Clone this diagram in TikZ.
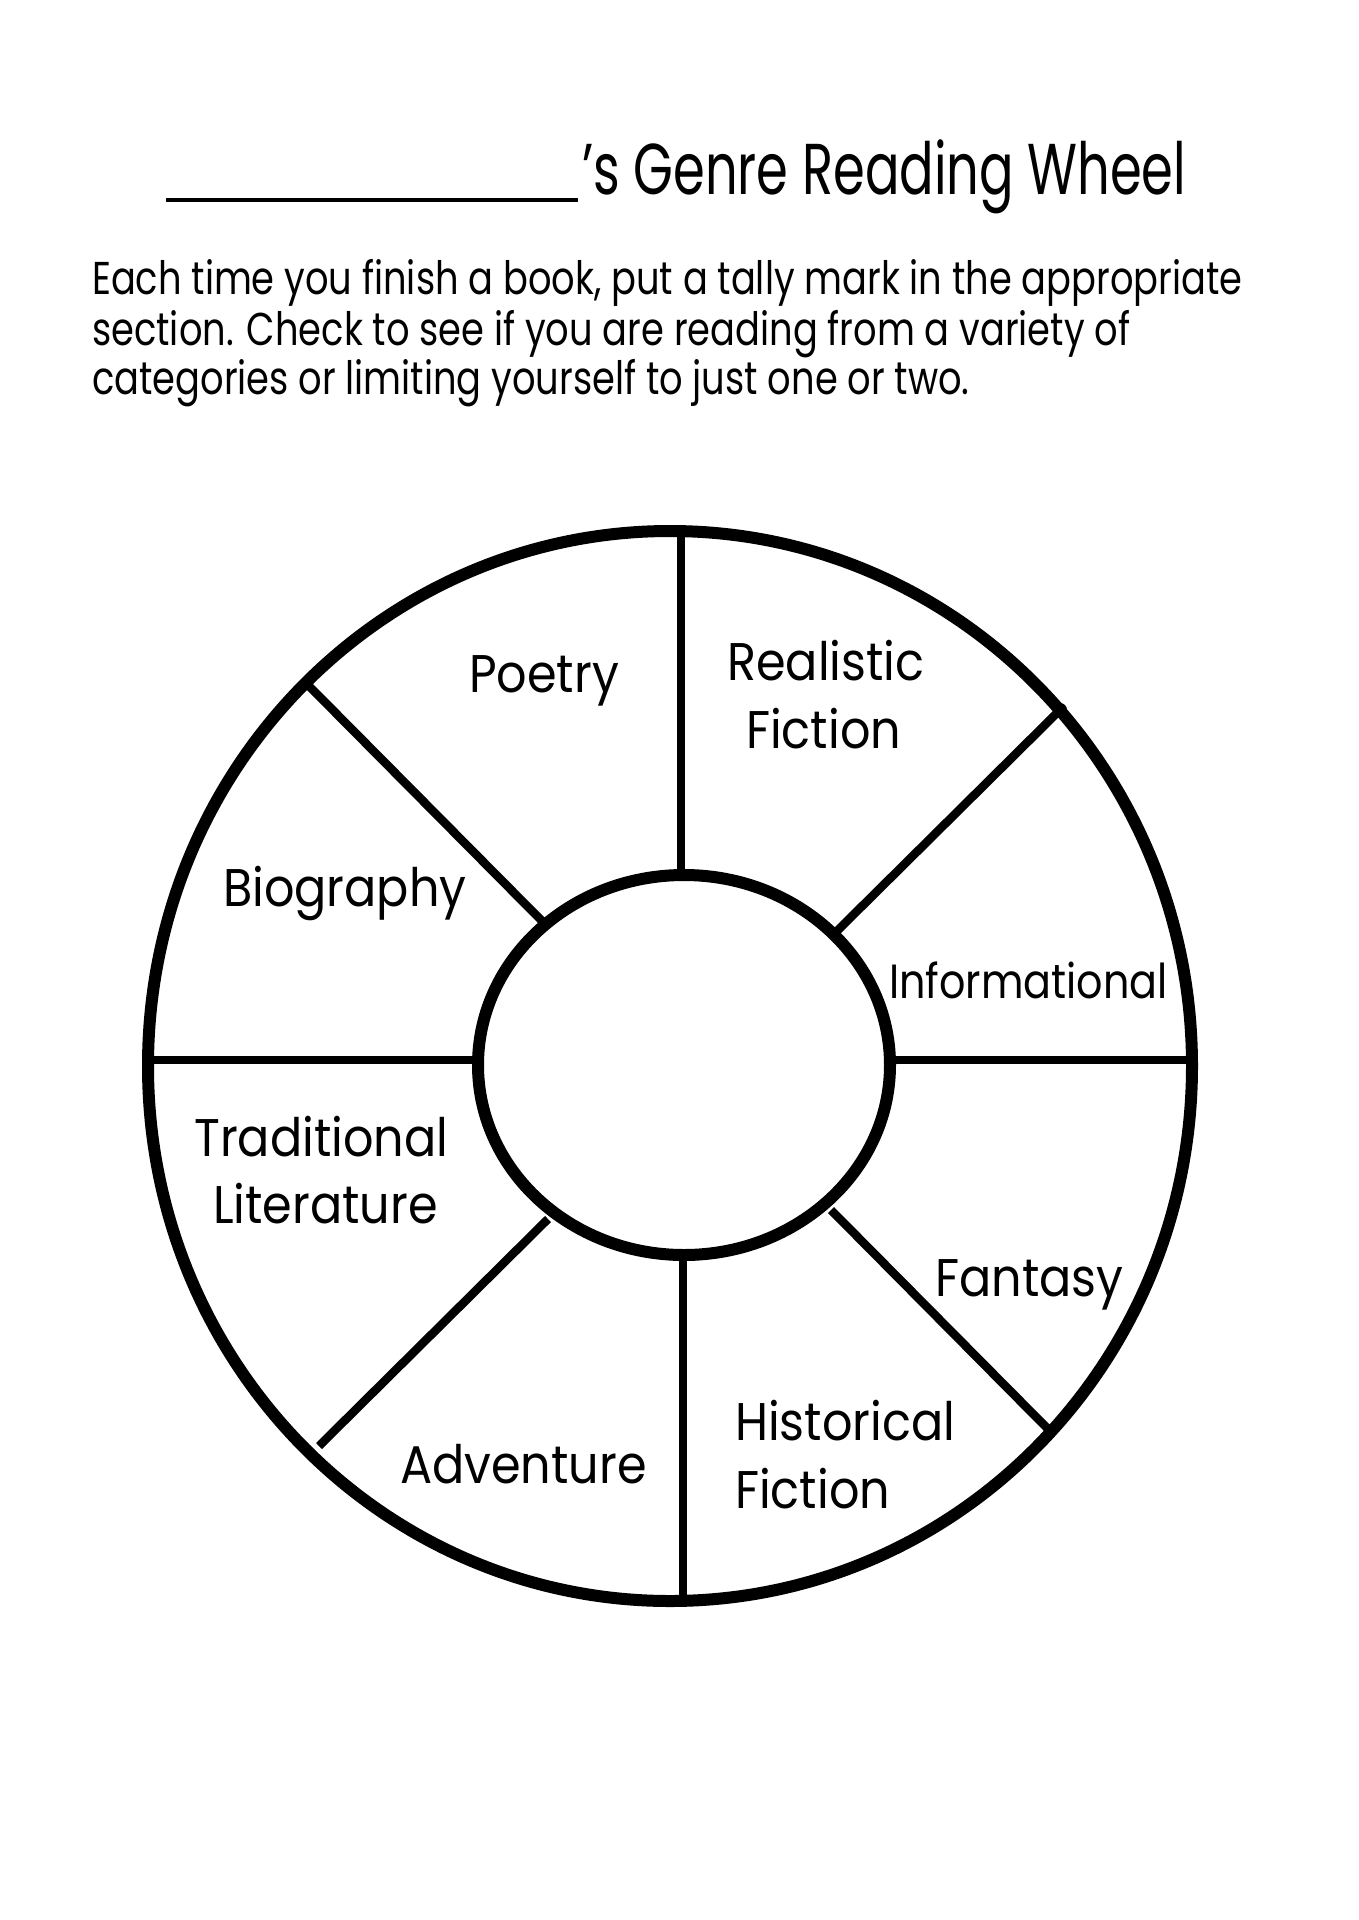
\documentclass[tikz,border=0pt]{standalone}
\usepackage{fontspec}
\setmainfont{Poppins}
\newfontfamily\lblfont[FakeStretch=0.9]{Poppins}
\newfontfamily\infofont[FakeStretch=0.86]{Poppins}
\newfontfamily\parafont[FakeStretch=0.8]{Poppins}
\newfontfamily\ttlfont[FakeStretch=0.71]{Poppins}
\begin{document}
\begin{tikzpicture}[x=1pt,y=-1pt,
  rim/.style={line width=12pt},
  spoke/.style={line width=8.5pt},
  blankline/.style={line width=4.5pt},
  lbl/.style={inner sep=0pt, anchor=base west, font=\lblfont\fontsize{53}{64}\selectfont},
  smalllbl/.style={inner sep=0pt, anchor=base west, font=\infofont\fontsize{48}{58}\selectfont},
  para/.style={inner sep=0pt, anchor=base west, font=\parafont\fontsize{46}{55}\selectfont},
  ttl/.style={inner sep=0pt, anchor=base west, font=\ttlfont\fontsize{72}{86}\selectfont}]
\useasboundingbox (0,0) rectangle (1358,1920);
\fill[white] (0,0) rectangle (1358,1920);

% title and instructions
\coordinate (blankA) at (166,200);
\coordinate (blankB) at (578,200);
\draw[blankline] (blankA) -- (blankB);
\node[ttl] (title) at (582,194) {’s Genre Reading Wheel};
\node[para] (p1) at (92,294) {Each time you finish a book, put a tally mark in the appropriate};
\node[para] (p2) at (92,345) {section. Check to see if you are reading from a variety of};
\node[para] (p3) at (92,394) {categories or limiting yourself to just one or two.};

% wheel
\coordinate (oc) at (670,1066);
\coordinate (ic) at (684,1065);
\draw[rim] (oc) ellipse [x radius=522, y radius=535];
\draw[rim] (ic) ellipse [x radius=206, y radius=190];

\coordinate (tA) at (681,531);  \coordinate (tB) at (681,872);
\coordinate (bA) at (683,1258); \coordinate (bB) at (683,1602);
\coordinate (lA) at (148,1060); \coordinate (lB) at (479,1060);
\coordinate (rA) at (889,1060); \coordinate (rB) at (1192,1060);
\coordinate (nwA) at (308,685); \coordinate (nwB) at (542,921);
\coordinate (neA) at (1060,710); \coordinate (neB) at (837,931);
\coordinate (swA) at (548,1219); \coordinate (swB) at (319,1446);
\coordinate (seA) at (831,1210); \coordinate (seB) at (1048,1429);
\foreach \a/\b in {tA/tB,bA/bB,lA/lB,rA/rB,nwA/nwB,neA/neB,swA/swB,seA/seB}
  \draw[spoke] (\a) -- (\b);
\fill (neA) circle [radius=7];

% labels
\node[lbl] (poetry) at (469,692) {Poetry};
\node[lbl] (real1) at (727,680) {Realistic};
\node[lbl] (real2) at (746,748) {Fiction};
\node[smalllbl] (info) at (889,998) {Informational};
\node[lbl] (bio) at (223,906) {Biography};
\node[lbl] (trad1) at (194,1156) {Traditional};
\node[lbl] (trad2) at (213,1223) {Literature};
\node[lbl] (adv) at (400,1483) {Adventure};
\node[lbl] (fant) at (935,1296) {Fantasy};
\node[lbl] (hist1) at (735,1440) {Historical};
\node[lbl] (hist2) at (735,1508) {Fiction};
\end{tikzpicture}
\end{document}
